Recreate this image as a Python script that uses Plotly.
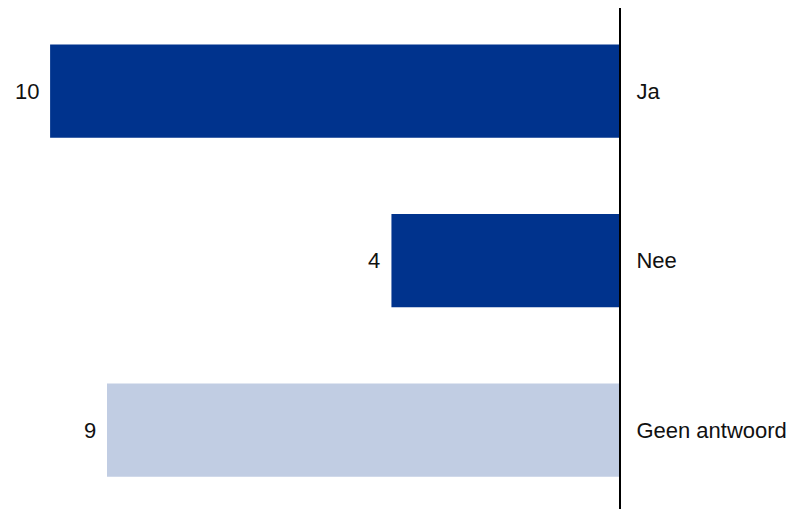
import plotly.graph_objects as go

categories = ["Ja", "Nee", "Geen antwoord"]
values = [10, 4, 9]
colors = ["#00338D", "#00338D", "#C1CDE3"]

fig = go.Figure()
fig.add_trace(go.Bar(
    y=categories, x=values, orientation="h",
    marker=dict(color=colors, line=dict(width=0)),
    width=0.55, hoverinfo="skip",
))
for c, v in zip(categories, values):
    fig.add_annotation(x=v, y=c, text=str(v), showarrow=False,
                       xanchor="right", yanchor="middle", xshift=-9,
                       font=dict(family="Liberation Sans, Arial", size=22, color="#111111"))

fig.update_layout(
    width=799, height=509,
    margin=dict(l=0, r=188, t=0, b=0),
    paper_bgcolor="white", plot_bgcolor="white",
    showlegend=False,
    font=dict(family="Liberation Sans, Arial", size=22, color="#111111"),
    xaxis=dict(range=[10.74, 0], visible=False, showgrid=False, zeroline=False),
    yaxis=dict(side="right", range=[2.513, -0.49], showline=True, linecolor="black",
               linewidth=2, showgrid=False, zeroline=False, ticks="",
               ticklabelstandoff=11, categoryorder="array", categoryarray=categories),
)
fig.write_html("out.html")
